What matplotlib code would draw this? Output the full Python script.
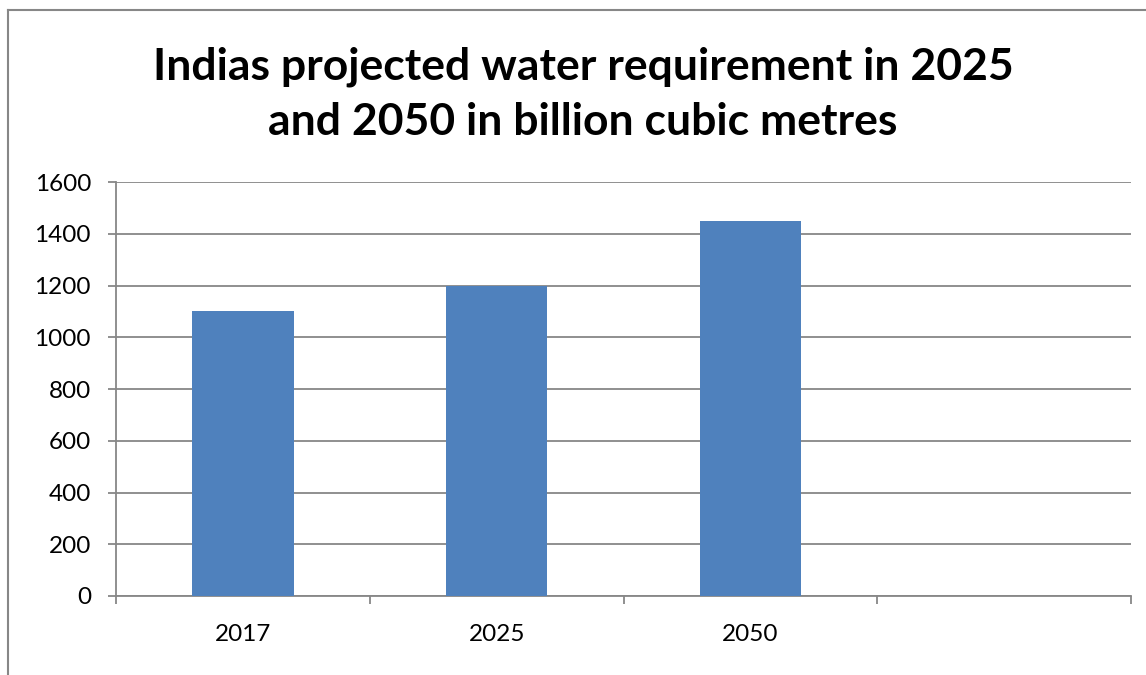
import matplotlib
matplotlib.use("Agg")
import matplotlib.pyplot as plt
from matplotlib.lines import Line2D

categories = ["2017", "2025", "2050", ""]
values = [1100, 1200, 1450, None]
y_ticks = [0, 200, 400, 600, 800, 1000, 1200, 1400, 1600]
title = "Indias projected water requirement in 2025\nand 2050 in billion cubic metres"

plt.rcParams['font.family'] = ['Lato', 'DejaVu Sans']

W, H = 1146, 675
fig = plt.figure(figsize=(W / 100, H / 100), dpi=100)
ax = fig.add_axes([116 / W, 1 - 596 / H, (1131 - 116) / W, (596 - 182) / H])

grid_col = "#878787"
bar_col = "#4F81BD"

xs = [i for i, v in enumerate(values) if v is not None]
ax.bar(xs, [values[i] for i in xs], width=0.4, color=bar_col, zorder=3)

ax.set_xlim(-0.5, len(categories) - 0.5)
ax.set_ylim(0, 1600)
ax.set_yticks(y_ticks)
ax.set_yticklabels([str(t) for t in y_ticks], fontsize=17.5)
ax.yaxis.grid(True, color=grid_col, linewidth=1.3, zorder=0)
ax.set_axisbelow(True)

# category labels centred under each slot, ticks on slot boundaries
ax.set_xticks(range(len(categories)))
ax.set_xticklabels(categories, fontsize=17.5)
ax.tick_params(axis='x', length=0, pad=20)
ax.set_xticks([i - 0.5 for i in range(len(categories) + 1)], minor=True)
ax.tick_params(axis='x', which='minor', length=6, width=1.3, color=grid_col, direction='out')
ax.tick_params(axis='y', length=6, width=1.3, color=grid_col, pad=12)

for s in ['top', 'right']:
    ax.spines[s].set_visible(False)
for s in ['left', 'bottom']:
    ax.spines[s].set_color(grid_col)
    ax.spines[s].set_linewidth(1.3)

fig.text(583 / W, 1 - 94 / H, title, ha='center', va='center',
         fontsize=32, fontweight='bold', linespacing=1.45)

# outer chart frame
fig.add_artist(Line2D([8 / W, 8 / W], [0, 1 - 10 / H], transform=fig.transFigure,
                      color=grid_col, linewidth=1.5))
fig.add_artist(Line2D([8 / W, 1], [1 - 10 / H, 1 - 10 / H], transform=fig.transFigure,
                      color=grid_col, linewidth=1.5))

fig.savefig("out.png", dpi=100)
